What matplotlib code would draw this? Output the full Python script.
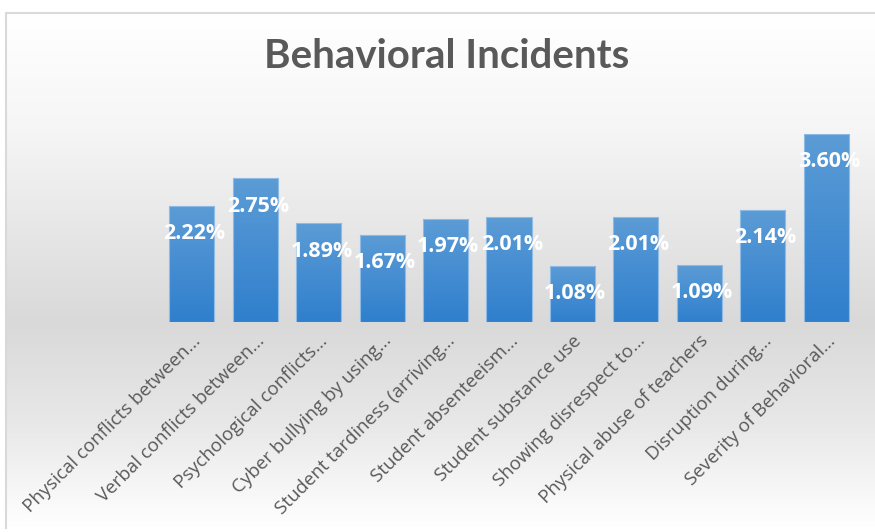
import numpy as np
import matplotlib.pyplot as plt
from matplotlib.colors import LinearSegmentedColormap
from matplotlib.patches import Rectangle

categories = [
    "Physical conflicts between...",
    "Verbal conflicts between...",
    "Psychological conflicts...",
    "Cyber bullying by using...",
    "Student tardiness (arriving...",
    "Student absenteeism...",
    "Student substance use",
    "Showing disrespect to...",
    "Physical abuse of teachers",
    "Disruption during...",
    "Severity of Behavioral...",
]
values = [2.22, 2.75, 1.89, 1.67, 1.97, 2.01, 1.08, 2.01, 1.09, 2.14, 3.60]
labels = [f"{v:.2f}%" for v in values]

W, H = 875, 532
fig = plt.figure(figsize=(W / 100, H / 100), dpi=100)
fig.patch.set_facecolor("white")

# chart area background: white -> grey -> white vertical gradient
bg = fig.add_axes([0, 0, 1, 1], zorder=0)
bg.set_xlim(0, W)
bg.set_ylim(H, 0)
bg.axis("off")
stops = [(0.0, "#ffffff"), (0.22, "#f6f6f6"), (0.6, "#d9d9d9"), (0.8, "#e8e8e8"), (1.0, "#ffffff")]
bg_cmap = LinearSegmentedColormap.from_list("bg", stops)
grad = np.linspace(0, 1, 256).reshape(-1, 1)
bg.imshow(grad, cmap=bg_cmap, extent=[6, W, 528, 13], aspect="auto")
bg.plot([6, 6, W], [528, 13, 13], color="#d9d9d9", lw=1.5)

ax = fig.add_axes([160 / W, 1 - 322 / H, (858 - 160) / W, (322 - 113) / H], zorder=1)
ax.patch.set_alpha(0)
x = np.arange(len(values))
width = 0.71
bars = ax.bar(x, values, width=width, color="none", edgecolor="#8dbbe6", linewidth=0.8, zorder=3)

bar_cmap = LinearSegmentedColormap.from_list("bar", ["#5c9cd6", "#2f7fcd"])
for b in bars:
    x0, y0 = b.get_x(), b.get_y()
    w, h = b.get_width(), b.get_height()
    im = ax.imshow(grad, cmap=bar_cmap, extent=[x0, x0 + w, y0, y0 + h],
                   aspect="auto", zorder=2)
    im.set_clip_path(Rectangle((x0, y0), w, h, transform=ax.transData))

fam = ["Open Sans", "DejaVu Sans"]
for xi, v, lab in zip(x, values, labels):
    ax.annotate(lab, (xi, v), xytext=(2, -20), textcoords="offset points",
                ha="center", va="center", color="white", fontsize=15.5,
                fontweight="bold", family=fam, zorder=4)

ax.set_xlim(-0.5, len(values) - 0.5)
ax.set_ylim(0, 4)
ax.set_yticks([])
ax.set_xticks(x)
ax.set_xticklabels(categories, rotation=45, ha="right", rotation_mode="anchor",
                   fontsize=13.5, color="#595959", family=fam)
ax.tick_params(axis="x", length=0, pad=7)
for s in ax.spines.values():
    s.set_visible(False)

fig.text(447 / W, 1 - 57 / H, "Behavioral Incidents", ha="center", va="center",
         fontsize=29, fontweight="bold", color="#595959", family=["Lato", "DejaVu Sans"])

fig.savefig("out.png", dpi=100)
